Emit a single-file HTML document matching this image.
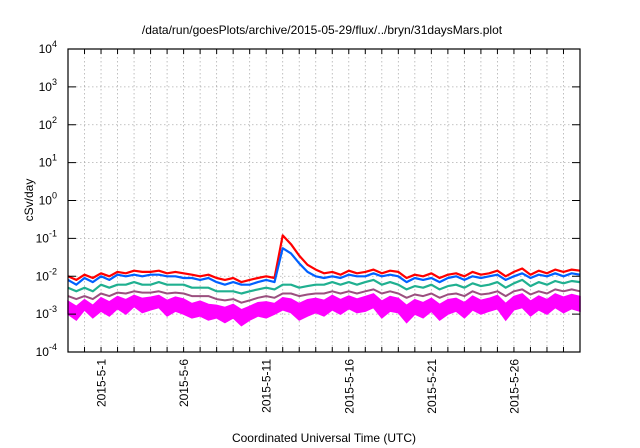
<!DOCTYPE html>
<html><head><meta charset="utf-8">
<style>
html,body{margin:0;padding:0;background:#fff;}
svg{display:block;font-family:"Liberation Sans",sans-serif;}
</style></head>
<body>
<svg id="chart" width="640" height="448" viewBox="0 0 640 448">
<text x="322" y="34" font-size="12" text-anchor="middle">/data/run/goesPlots/archive/2015-05-29/flux/../bryn/31daysMars.plot</text>
<text transform="translate(33,200) rotate(-90)" font-size="12" text-anchor="middle">cSv/day</text>
<text x="324" y="442" font-size="12" text-anchor="middle">Coordinated Universal Time (UTC)</text>
<g id="grid"></g>
<g id="series"></g>
<g id="axes"></g>
</svg>
<script>
const yDecades = [-4,-3,-2,-1,0,1,2,3,4];
const xLabelDays = [0,5,10,15,20,25];
const xLabels = ["2015-5-1","2015-5-6","2015-5-11","2015-5-16","2015-5-21","2015-5-26"];
const dayStart = -2, dayEnd = 29;
const tStep = 0.5;
const red = [0.010,0.008,0.011,0.009,0.012,0.010,0.013,0.012,0.014,0.013,
0.013,0.014,0.012,0.013,0.012,0.011,0.010,0.011,0.009,0.008,
0.009,0.007,0.008,0.009,0.010,0.009,0.120,0.070,0.035,0.020,
0.015,0.012,0.013,0.011,0.014,0.012,0.013,0.015,0.012,0.014,
0.013,0.009,0.011,0.010,0.012,0.009,0.011,0.012,0.010,0.013,
0.011,0.012,0.014,0.010,0.013,0.016,0.011,0.014,0.012,0.015,
0.013,0.015,0.014];
const blue = [0.008,0.006,0.009,0.007,0.010,0.008,0.011,0.010,0.011,0.010,
0.011,0.011,0.010,0.010,0.009,0.009,0.008,0.009,0.007,0.006,
0.007,0.006,0.006,0.007,0.008,0.007,0.055,0.040,0.022,0.013,
0.010,0.009,0.010,0.009,0.011,0.010,0.010,0.012,0.010,0.011,
0.010,0.007,0.009,0.008,0.009,0.007,0.009,0.010,0.008,0.010,
0.009,0.010,0.011,0.008,0.010,0.012,0.009,0.011,0.010,0.012,
0.010,0.012,0.011];
const teal = [0.005,0.004,0.005,0.004,0.006,0.005,0.006,0.006,0.007,0.006,
0.006,0.007,0.006,0.006,0.006,0.005,0.005,0.005,0.004,0.004,
0.004,0.0035,0.004,0.0045,0.005,0.0045,0.006,0.006,0.005,0.0055,
0.006,0.006,0.007,0.006,0.007,0.006,0.007,0.008,0.006,0.007,
0.006,0.0045,0.0055,0.005,0.006,0.0045,0.0055,0.006,0.005,0.0065,
0.0055,0.006,0.007,0.005,0.0065,0.008,0.0055,0.007,0.006,0.0075,
0.0065,0.0075,0.007];
const purple = [0.003,0.0025,0.003,0.0025,0.0035,0.003,0.0037,0.0035,0.004,0.0037,
0.0037,0.004,0.0035,0.0037,0.0035,0.003,0.003,0.003,0.0025,0.0023,
0.0025,0.002,0.0023,0.0027,0.003,0.0027,0.0035,0.0035,0.003,0.0033,
0.0035,0.0035,0.004,0.0035,0.004,0.0035,0.004,0.0045,0.0035,0.004,
0.0035,0.0027,0.0033,0.003,0.0035,0.0027,0.0033,0.0035,0.003,0.004,
0.0033,0.0035,0.004,0.003,0.004,0.0045,0.0033,0.004,0.0035,0.0045,
0.004,0.0045,0.004];
const magHigh = [0.0022,0.0016,0.0024,0.0017,0.0027,0.0021,0.0029,0.0024,0.0031,0.0026,
0.0028,0.0031,0.0023,0.0028,0.0025,0.0019,0.0022,0.0018,0.0017,0.0015,
0.0018,0.0013,0.0016,0.0020,0.0021,0.0019,0.0027,0.0025,0.0019,0.0024,
0.0026,0.0023,0.0031,0.0024,0.0030,0.0025,0.0029,0.0034,0.0022,0.0029,
0.0026,0.0017,0.0024,0.0020,0.0026,0.0018,0.0024,0.0026,0.0020,0.0030,
0.0023,0.0026,0.0031,0.0019,0.0029,0.0034,0.0022,0.0030,0.0024,0.0034,
0.0028,0.0033,0.0029];
const magLow = [0.0010,0.0007,0.0013,0.0008,0.0012,0.0009,0.0014,0.0010,0.0016,0.0011,
0.0013,0.0015,0.0009,0.0012,0.0010,0.0008,0.0009,0.0007,0.0008,0.0006,
0.0008,0.0005,0.0007,0.0009,0.0008,0.0010,0.0013,0.0011,0.0007,0.0009,
0.0011,0.0009,0.0013,0.0010,0.0014,0.0011,0.0012,0.0015,0.0008,0.0012,
0.0011,0.0006,0.0010,0.0008,0.0012,0.0007,0.0010,0.0012,0.0008,0.0013,
0.0010,0.0012,0.0014,0.0007,0.0013,0.0015,0.0009,0.0013,0.0010,0.0015,
0.0011,0.0014,0.0012];

const L=68, R=580, T=49, B=352;
const NS="http://www.w3.org/2000/svg";
function X(d){return L+(d-dayStart)/(dayEnd-dayStart)*(R-L);}
function Y(v){const lv=Math.log10(v);return B-(lv-yDecades[0])/(yDecades[yDecades.length-1]-yDecades[0])*(B-T);}
function mk(tag,attrs,parent){const e=document.createElementNS(NS,tag);for(const k in attrs)e.setAttribute(k,attrs[k]);parent.appendChild(e);return e;}
const grid=document.getElementById('grid'),ser=document.getElementById('series'),ax=document.getElementById('axes');
for(let d=dayStart+1; d<dayEnd; d++){
  const l=mk('line',{x1:X(d),x2:X(d),y1:T,y2:B,stroke:'#b0b0b0','stroke-width':0.8,'stroke-dasharray':'1.5,2.5'},grid);
  
  
}
yDecades.slice(1,-1).forEach(p=>{
  const l=mk('line',{x1:L,x2:R,y1:Y(Math.pow(10,p)),y2:Y(Math.pow(10,p)),stroke:'#b0b0b0','stroke-width':0.8,'stroke-dasharray':'1.5,2.5'},grid);
  
  
});
function pts(arr){return arr.map((v,i)=>X(dayStart+i*tStep).toFixed(1)+','+Y(v).toFixed(1));}
const pl=mk('polyline',{points:pts(purple).join(' '),fill:'none',stroke:'#9b4f7f','stroke-width':2,'stroke-linejoin':'round'},ser);


const band=mk('polygon',{points:pts(magHigh).concat(pts(magLow).reverse()).join(' '),fill:'#ff00ff',stroke:'#ff00ff','stroke-width':1.5},ser);


[[teal,'#20b090','series-teal'],[red,'#ff0000','series-red'],[blue,'#0060ff','series-blue']].forEach(s=>{
  const p=mk('polyline',{points:pts(s[0]).join(' '),fill:'none',stroke:s[1],'stroke-width':2.2,'stroke-linejoin':'round'},ser);
  
  
});
const fr=mk('rect',{x:L,y:T,width:R-L,height:B-T,fill:'none',stroke:'#000','stroke-width':1.2},ax);


for(let d=dayStart+1; d<dayEnd; d++){
  mk('line',{x1:X(d),x2:X(d),y1:B,y2:B-5,stroke:'#000'},ax);
  mk('line',{x1:X(d),x2:X(d),y1:T,y2:T+5,stroke:'#000'},ax);
}
yDecades.forEach(p=>{
  const y=Y(Math.pow(10,p));
  mk('line',{x1:L,x2:L+8,y1:y,y2:y,stroke:'#000'},ax);
  mk('line',{x1:R,x2:R-8,y1:y,y2:y,stroke:'#000'},ax);
  const t=mk('text',{x:L-11,y:y+4,'font-size':12,'text-anchor':'end'},ax);
  
  
  t.textContent='10';
  const s=mk('tspan',{dy:-6,'font-size':9},t);
  s.textContent=String(p);
});
xLabelDays.forEach((d,i)=>{
  const x=X(d);
  const t=mk('text',{transform:'translate('+(x+4.5)+',359) rotate(-90)','font-size':12,'text-anchor':'end'},ax);
  
  
  t.textContent=xLabels[i];
});
</script>
</body></html>
